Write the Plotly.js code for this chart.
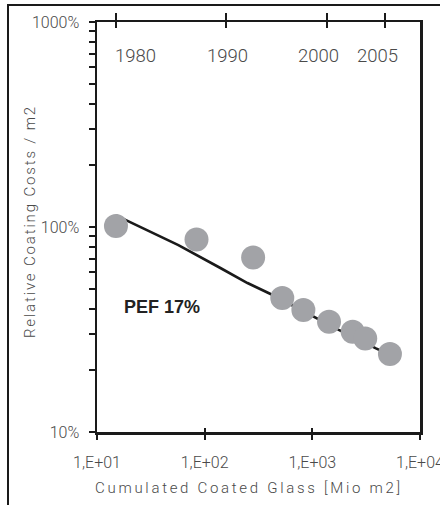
<!DOCTYPE html>
<html>
<head>
<meta charset="utf-8">
<script src="https://cdn.plot.ly/plotly-3.0.1.min.js"></script>
<style>
  html, body { margin: 0; padding: 0; background: #fff; overflow: hidden; }
  #wrap { position: relative; width: 440px; height: 505px; }
  #chart { position: absolute; left: 0; top: 0; width: 440px; height: 505px; }
  #frame { position: absolute; left: 7px; top: 4px; width: 500px; height: 560px;
           border-left: 2px solid #1a1a1a; border-top: 2px solid #1a1a1a; pointer-events: none; }
</style>
</head>
<body>
<div id="wrap">
  <div id="chart"></div>
  <div id="frame"></div>
</div>
<script>
// Data
const cumulatedGlass = [15, 84, 282, 526, 826, 1430, 2370, 3100, 5260];      // Mio m2
const relativeCost   = [101, 87, 71, 45, 39.4, 34.5, 30.8, 28.6, 24];         // %
const fitGlass = [15, 57, 140, 250, 428, 1760, 3900, 5260];
const fitCost  = [114, 81.6, 63.1, 53.3, 46.6, 31.5, 25.6, 23.8];
const yearLabels = ['1980', '1990', '2000', '2005'];
const yearGlass  = [15, 158, 1360, 4760];
const xTickVals  = [10, 100, 1000, 10000];
const xTickText  = ['1,E+01', '1,E+02', '1,E+03', '1,E+04'];
const yTickVals  = [10,20,30,40,50,60,70,80,90,100,200,300,400,500,600,700,800,900,1000];
const yTickText  = yTickVals.map(v => (v === 10 || v === 100 || v === 1000) ? v + '%' : '');
const pefLabel = 'PEF 17%';
const xTitle = 'Cumulated Coated Glass [Mio m2]';
const yTitle = 'Relative Coating Costs / m2';

const lightFont = {family: 'Roboto, "DejaVu Sans", sans-serif', weight: 300, color: '#4a4a4a'};
const ink = '#1a1a1a';

const traces = [
  {x: fitGlass, y: fitCost, type: 'scatter', mode: 'lines',
   line: {color: ink, width: 2.6}, hoverinfo: 'skip', showlegend: false},
  {x: cumulatedGlass, y: relativeCost, type: 'scatter', mode: 'markers',
   marker: {color: '#a2a3a7', size: 24, line: {width: 0}}, showlegend: false}
];

const yearShifts = [20, 1, -8, -8];
const annotations = yearLabels.map((t, i) => ({
  text: t, x: Math.log10(yearGlass[i]), xref: 'x', y: 1, yref: 'paper',
  xanchor: 'center', yanchor: 'top', xshift: yearShifts[i], yshift: -21,
  showarrow: false, font: Object.assign({size: 18.5}, lightFont)
}));
annotations.push({
  text: '<b>' + pefLabel + '</b>', x: 0.201, y: 0.304, xref: 'paper', yref: 'paper',
  xanchor: 'center', yanchor: 'middle', showarrow: false,
  font: {family: '"Liberation Sans", Arial, sans-serif', size: 18, color: '#222'}
});
// axis titles
annotations.push({
  text: '<span style="letter-spacing:2.7px">' + xTitle + '</span>',
  x: 0.4706, y: -0.1366, xref: 'paper', yref: 'paper',
  xanchor: 'center', yanchor: 'middle', showarrow: false,
  font: Object.assign({size: 15}, lightFont)
});
annotations.push({
  text: '<span style="letter-spacing:1.85px">' + yTitle + '</span>',
  x: -0.2074, y: 0.512, xref: 'paper', yref: 'paper', textangle: -90,
  xanchor: 'center', yanchor: 'middle', showarrow: false,
  font: Object.assign({size: 15}, lightFont)
});

const axBase = {type: 'log', range: [1, 4.0002], showgrid: false, zeroline: false};

const layout = {
  width: 440, height: 505,
  margin: {l: 97, r: 20, t: 22, b: 73},
  paper_bgcolor: '#fff', plot_bgcolor: '#fff',
  showlegend: false,
  xaxis: Object.assign({}, axBase, {
    showline: true, linecolor: ink, linewidth: 2.5, mirror: true,
    ticks: 'outside', ticklen: 5, tickwidth: 2, tickcolor: ink,
    tickmode: 'array', tickvals: xTickVals, ticktext: xTickText,
    ticklabelstandoff: 9, ticklabeloverflow: 'allow', automargin: false,
    tickfont: Object.assign({size: 16}, lightFont)
  }),
  xaxis3: Object.assign({}, axBase, {
    overlaying: 'x', side: 'bottom', showline: false,
    ticks: 'inside', ticklen: 4, tickwidth: 2, tickcolor: ink,
    tickmode: 'array', tickvals: xTickVals, showticklabels: false
  }),
  xaxis2: Object.assign({}, axBase, {
    overlaying: 'x', side: 'top', showline: false,
    ticks: 'outside', ticklen: 8, tickwidth: 2, tickcolor: ink,
    tickmode: 'array', tickvals: yearGlass, showticklabels: false
  }),
  xaxis4: Object.assign({}, axBase, {
    overlaying: 'x', side: 'top', showline: false,
    ticks: 'inside', ticklen: 6, tickwidth: 2, tickcolor: ink,
    tickmode: 'array', tickvals: yearGlass, showticklabels: false
  }),
  yaxis: {
    type: 'log', range: [1, 3], showgrid: false, zeroline: false,
    showline: true, linecolor: ink, linewidth: 2.5, mirror: true,
    ticks: 'outside', ticklen: 6, tickwidth: 2, tickcolor: ink,
    tickmode: 'array', tickvals: yTickVals, ticktext: yTickText,
    ticklabelstandoff: 6, automargin: false,
    tickfont: Object.assign({size: 16}, lightFont)
  },
  annotations: annotations
};

// empty traces bind the overlay axes so their ticks are drawn
traces.push({x: [], y: [], xaxis: 'x2', yaxis: 'y', type: 'scatter', showlegend: false});
traces.push({x: [], y: [], xaxis: 'x3', yaxis: 'y', type: 'scatter', showlegend: false});
traces.push({x: [], y: [], xaxis: 'x4', yaxis: 'y', type: 'scatter', showlegend: false});

Plotly.newPlot('chart', traces, layout, {displayModeBar: false, staticPlot: true});
</script>
</body>
</html>
